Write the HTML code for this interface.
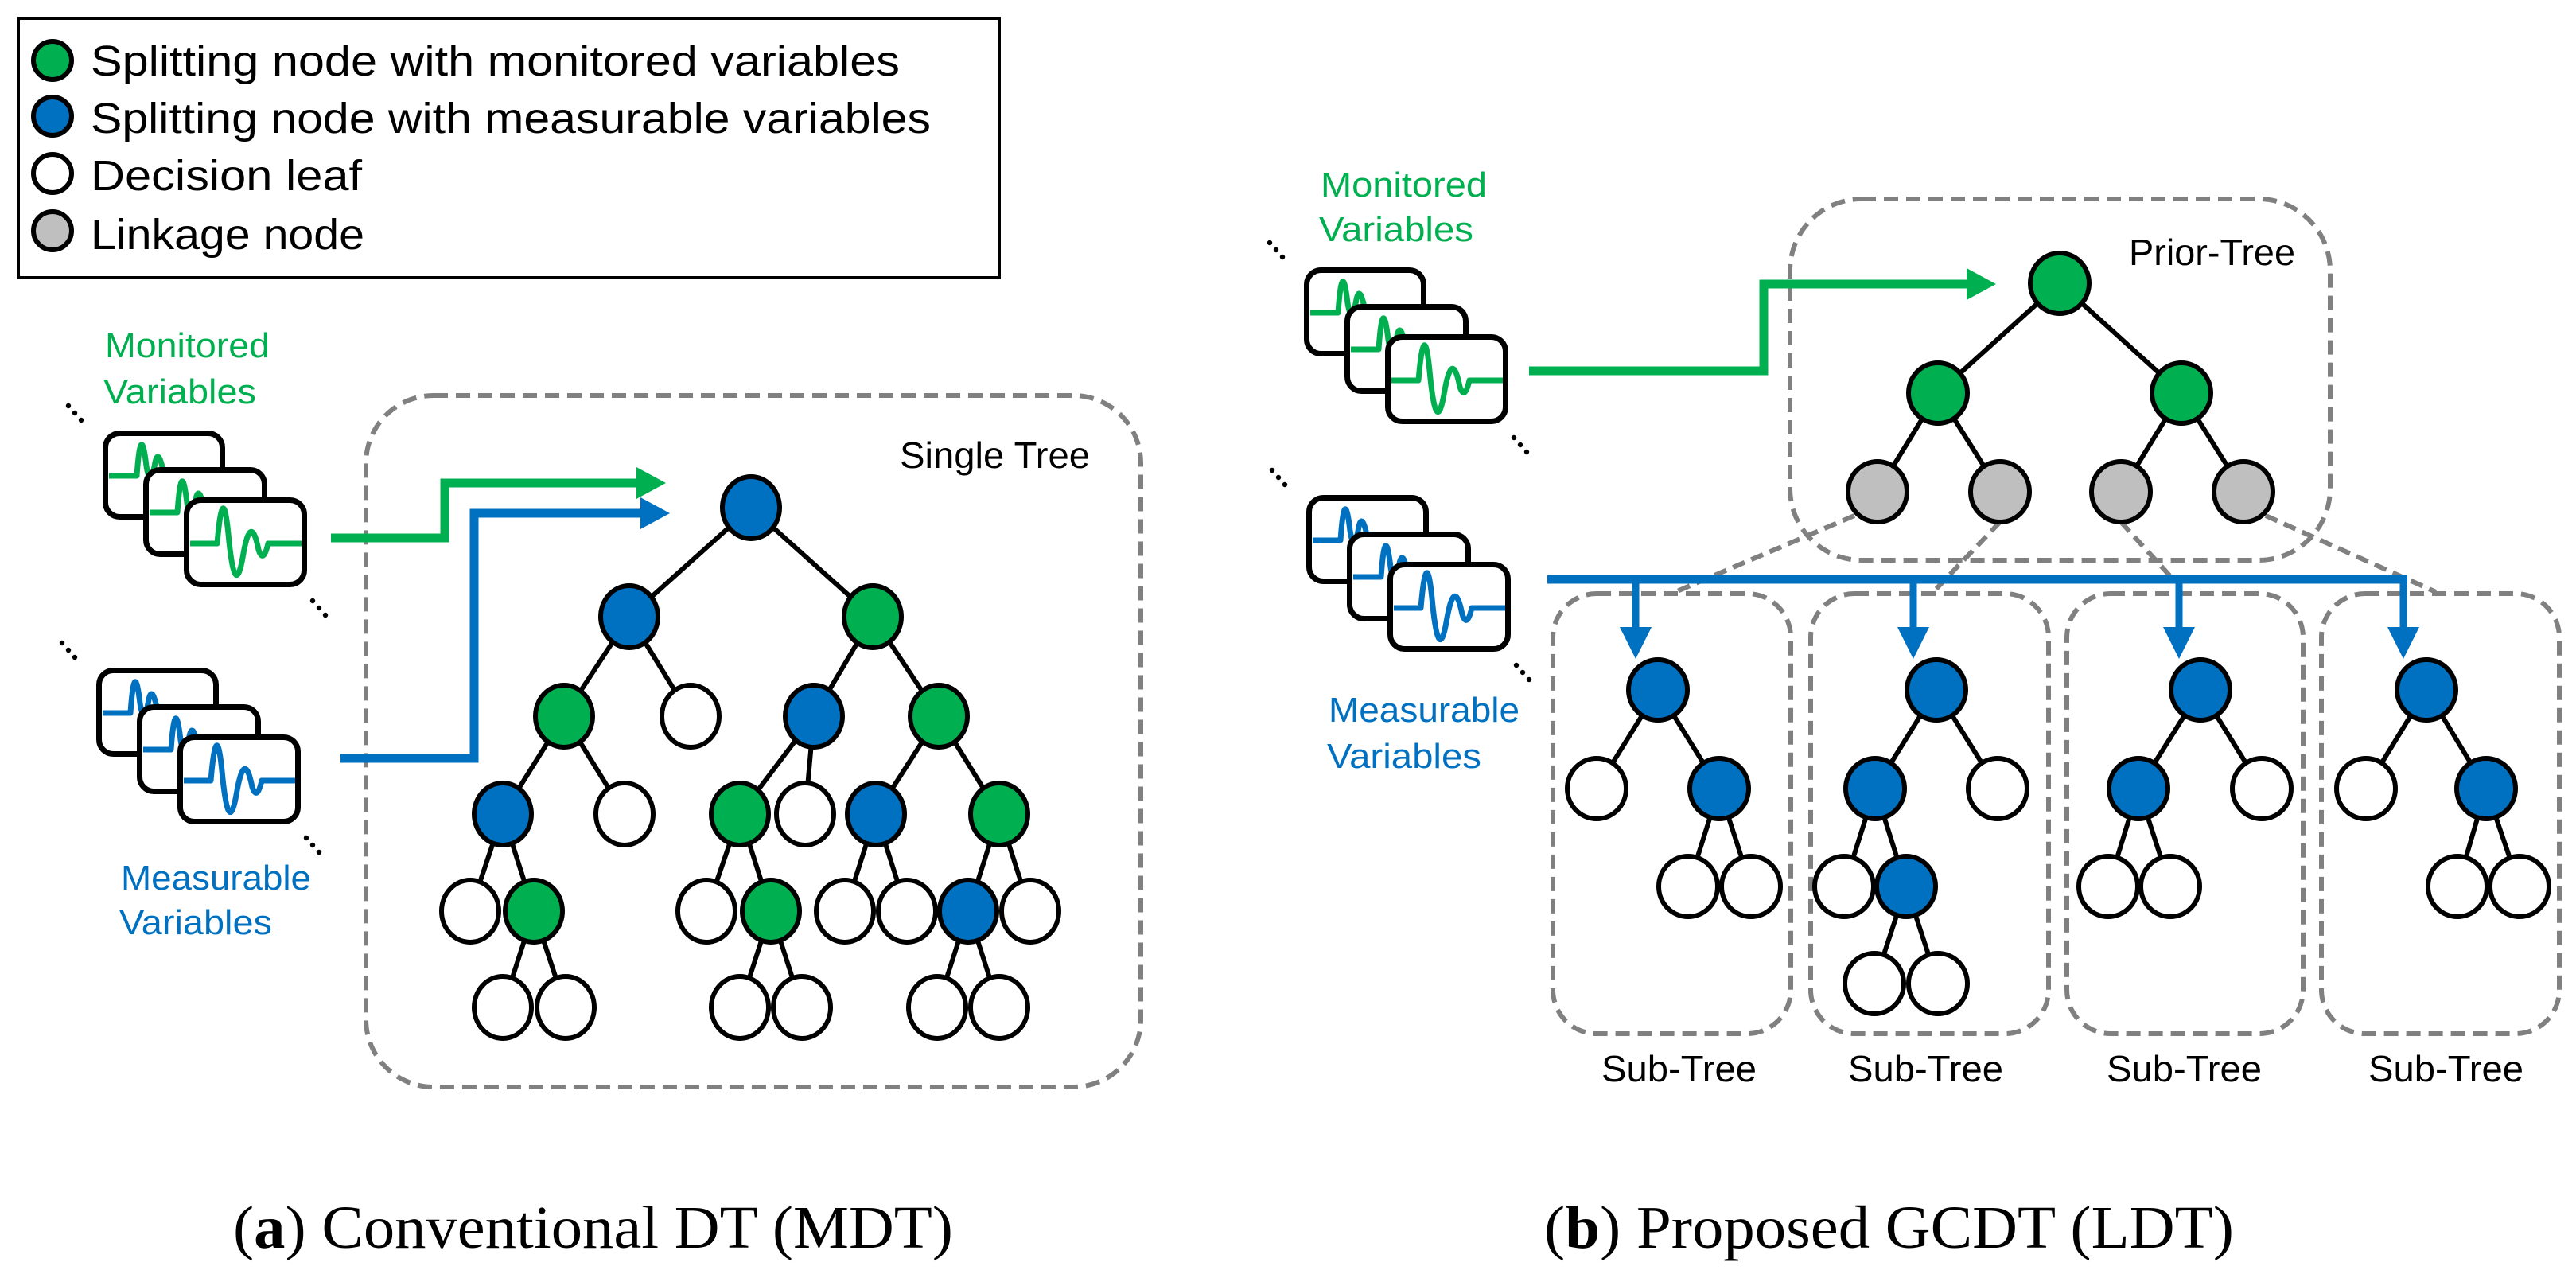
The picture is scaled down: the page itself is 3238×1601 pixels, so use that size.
<!DOCTYPE html>
<html><head><meta charset="utf-8"><style>
html,body{margin:0;padding:0;background:#fff}
svg{display:block}
text{font-family:"Liberation Sans",sans-serif}
</style></head><body>
<svg width="3238" height="1601" viewBox="0 0 3238 1601" xmlns="http://www.w3.org/2000/svg">
<defs>
<g id="dots"><circle cx="0" cy="0" r="3.2" fill="#000"/><circle cx="8" cy="9" r="3.2" fill="#000"/><circle cx="16" cy="18" r="3.2" fill="#000"/></g>
<g id="cardsG">
 <rect x="3.5" y="3.5" width="147" height="105" rx="18" fill="#fff" stroke="#000" stroke-width="7"/>
 <path d="M8,57 H43 Q48,-15 55,45 Q60,75 66,40 Q70,22 76,50" fill="none" stroke="#00B050" stroke-width="7" stroke-linejoin="round"/>
 <rect x="54.5" y="49.5" width="149" height="106" rx="18" fill="#fff" stroke="#000" stroke-width="7"/>
 <path d="M59,103 H94 Q99,31 106,91 Q111,121 117,86 Q121,68 127,96" fill="none" stroke="#00B050" stroke-width="7" stroke-linejoin="round"/>
 <rect x="105.5" y="87.5" width="148" height="106" rx="18" fill="#fff" stroke="#000" stroke-width="7"/>
 <path d="M110,142 H144 Q151,60 158,130 Q166,215 176,160 Q186,100 196,150 Q202,168 208,142 H250" fill="none" stroke="#00B050" stroke-width="7" stroke-linejoin="round"/>
</g>
<g id="cardsB">
 <rect x="3.5" y="3.5" width="147" height="105" rx="18" fill="#fff" stroke="#000" stroke-width="7"/>
 <path d="M8,57 H43 Q48,-15 55,45 Q60,75 66,40 Q70,22 76,50" fill="none" stroke="#0070C0" stroke-width="7" stroke-linejoin="round"/>
 <rect x="54.5" y="49.5" width="149" height="106" rx="18" fill="#fff" stroke="#000" stroke-width="7"/>
 <path d="M59,103 H94 Q99,31 106,91 Q111,121 117,86 Q121,68 127,96" fill="none" stroke="#0070C0" stroke-width="7" stroke-linejoin="round"/>
 <rect x="105.5" y="87.5" width="148" height="106" rx="18" fill="#fff" stroke="#000" stroke-width="7"/>
 <path d="M110,142 H144 Q151,60 158,130 Q166,215 176,160 Q186,100 196,150 Q202,168 208,142 H250" fill="none" stroke="#0070C0" stroke-width="7" stroke-linejoin="round"/>
</g>
</defs>

<rect x="23" y="23" width="1233" height="326" fill="#fff" stroke="#000" stroke-width="4"/>
<g stroke="#000" stroke-width="6">
<circle cx="66" cy="76" r="24" fill="#00B050"/>
<circle cx="66" cy="146" r="24" fill="#0070C0"/>
<circle cx="66" cy="218" r="24" fill="#fff"/>
<circle cx="66" cy="290" r="24" fill="#BFBFBF"/>
</g>
<g font-size="54" fill="#000">
<text x="114" y="95" textLength="1017" lengthAdjust="spacingAndGlyphs">Splitting node with monitored variables</text>
<text x="114" y="167" textLength="1056" lengthAdjust="spacingAndGlyphs">Splitting node with measurable variables</text>
<text x="114" y="239" textLength="341" lengthAdjust="spacingAndGlyphs">Decision leaf</text>
<text x="114" y="313" textLength="344" lengthAdjust="spacingAndGlyphs">Linkage node</text>
</g>

<g font-size="44">
<text x="132" y="449" fill="#00B050" textLength="207" lengthAdjust="spacingAndGlyphs">Monitored</text>
<text x="130" y="507" fill="#00B050" textLength="192" lengthAdjust="spacingAndGlyphs">Variables</text>
<text x="152" y="1118" fill="#0070C0" textLength="239" lengthAdjust="spacingAndGlyphs">Measurable</text>
<text x="150" y="1174" fill="#0070C0" textLength="192" lengthAdjust="spacingAndGlyphs">Variables</text>
</g>
<use href="#cardsG" transform="translate(129,541)"/>
<use href="#dots" transform="translate(86,510)"/>
<use href="#dots" transform="translate(393,755)"/>
<use href="#cardsB" transform="translate(121,839)"/>
<use href="#dots" transform="translate(78,808)"/>
<use href="#dots" transform="translate(385,1053)"/>

<rect x="460" y="497" width="974" height="869" rx="85" fill="none" stroke="#808080" stroke-width="6" stroke-dasharray="18 10"/>
<text x="1131" y="588" font-size="46" textLength="239" lengthAdjust="spacingAndGlyphs">Single Tree</text>

<polyline points="416,676 559,676 559,607 805,607" fill="none" stroke="#00B050" stroke-width="11"/>
<polygon points="837,607 800,587 800,627" fill="#00B050"/>
<polyline points="428,953 596,953 596,645 810,645" fill="none" stroke="#0070C0" stroke-width="11"/>
<polygon points="842,645 805,625 805,665" fill="#0070C0"/>

<g stroke="#000" stroke-width="6">
<line x1="944" y1="638" x2="791" y2="775"/><line x1="944" y1="638" x2="1097" y2="775"/>
<line x1="791" y1="775" x2="709" y2="900"/><line x1="791" y1="775" x2="868" y2="900"/>
<line x1="1097" y1="775" x2="1023" y2="900"/><line x1="1097" y1="775" x2="1180" y2="900"/>
<line x1="709" y1="900" x2="632" y2="1023"/><line x1="709" y1="900" x2="785" y2="1023"/>
<line x1="1023" y1="900" x2="930" y2="1023"/><line x1="1023" y1="900" x2="1012" y2="1023"/>
<line x1="1180" y1="900" x2="1101" y2="1023"/><line x1="1180" y1="900" x2="1256" y2="1023"/>
<line x1="632" y1="1023" x2="591" y2="1145"/><line x1="632" y1="1023" x2="671" y2="1145"/>
<line x1="930" y1="1023" x2="888" y2="1145"/><line x1="930" y1="1023" x2="969" y2="1145"/>
<line x1="1101" y1="1023" x2="1062" y2="1145"/><line x1="1101" y1="1023" x2="1140" y2="1145"/>
<line x1="1256" y1="1023" x2="1217" y2="1145"/><line x1="1256" y1="1023" x2="1295" y2="1145"/>
<line x1="671" y1="1145" x2="632" y2="1266"/><line x1="671" y1="1145" x2="711" y2="1266"/>
<line x1="969" y1="1145" x2="930" y2="1266"/><line x1="969" y1="1145" x2="1008" y2="1266"/>
<line x1="1217" y1="1145" x2="1178" y2="1266"/><line x1="1217" y1="1145" x2="1256" y2="1266"/>
</g>
<g stroke="#000" stroke-width="6">
<ellipse cx="944" cy="638" rx="36" ry="39" fill="#0070C0"/>
<ellipse cx="791" cy="775" rx="36" ry="39" fill="#0070C0"/>
<ellipse cx="1097" cy="775" rx="36" ry="39" fill="#00B050"/>
<ellipse cx="709" cy="900" rx="36" ry="39" fill="#00B050"/>
<ellipse cx="868" cy="900" rx="36" ry="39" fill="#fff"/>
<ellipse cx="1023" cy="900" rx="36" ry="39" fill="#0070C0"/>
<ellipse cx="1180" cy="900" rx="36" ry="39" fill="#00B050"/>
<ellipse cx="632" cy="1023" rx="36" ry="39" fill="#0070C0"/>
<ellipse cx="785" cy="1023" rx="36" ry="39" fill="#fff"/>
<ellipse cx="930" cy="1023" rx="36" ry="39" fill="#00B050"/>
<ellipse cx="1012" cy="1023" rx="36" ry="39" fill="#fff"/>
<ellipse cx="1101" cy="1023" rx="36" ry="39" fill="#0070C0"/>
<ellipse cx="1256" cy="1023" rx="36" ry="39" fill="#00B050"/>
<ellipse cx="591" cy="1145" rx="36" ry="39" fill="#fff"/>
<ellipse cx="671" cy="1145" rx="36" ry="39" fill="#00B050"/>
<ellipse cx="888" cy="1145" rx="36" ry="39" fill="#fff"/>
<ellipse cx="969" cy="1145" rx="36" ry="39" fill="#00B050"/>
<ellipse cx="1062" cy="1145" rx="36" ry="39" fill="#fff"/>
<ellipse cx="1140" cy="1145" rx="36" ry="39" fill="#fff"/>
<ellipse cx="1295" cy="1145" rx="36" ry="39" fill="#fff"/>
<ellipse cx="1217" cy="1145" rx="36" ry="39" fill="#0070C0"/>
<ellipse cx="632" cy="1266" rx="36" ry="39" fill="#fff"/>
<ellipse cx="711" cy="1266" rx="36" ry="39" fill="#fff"/>
<ellipse cx="930" cy="1266" rx="36" ry="39" fill="#fff"/>
<ellipse cx="1008" cy="1266" rx="36" ry="39" fill="#fff"/>
<ellipse cx="1178" cy="1266" rx="36" ry="39" fill="#fff"/>
<ellipse cx="1256" cy="1266" rx="36" ry="39" fill="#fff"/>
</g>

<g font-size="44">
<text x="1660" y="247" fill="#00B050" textLength="209" lengthAdjust="spacingAndGlyphs">Monitored</text>
<text x="1658" y="303" fill="#00B050" textLength="194" lengthAdjust="spacingAndGlyphs">Variables</text>
<text x="1670" y="907" fill="#0070C0" textLength="240" lengthAdjust="spacingAndGlyphs">Measurable</text>
<text x="1668" y="965" fill="#0070C0" textLength="194" lengthAdjust="spacingAndGlyphs">Variables</text>
</g>
<use href="#cardsG" transform="translate(1639,336)"/>
<use href="#dots" transform="translate(1596,305)"/>
<use href="#dots" transform="translate(1903,550)"/>
<use href="#cardsB" transform="translate(1642,622)"/>
<use href="#dots" transform="translate(1599,591)"/>
<use href="#dots" transform="translate(1906,836)"/>

<rect x="2250" y="250" width="679" height="454" rx="90" fill="none" stroke="#808080" stroke-width="6" stroke-dasharray="18 10"/>
<text x="2676" y="333" font-size="46" textLength="209" lengthAdjust="spacingAndGlyphs">Prior-Tree</text>

<g fill="none" stroke="#808080" stroke-width="6" stroke-dasharray="18 10">
<rect x="1952" y="746" width="299" height="553" rx="55"/>
<rect x="2276" y="746" width="299" height="553" rx="55"/>
<rect x="2598" y="746" width="297" height="553" rx="55"/>
<rect x="2918" y="746" width="299" height="553" rx="55"/>
</g>
<g stroke="#808080" stroke-width="6" stroke-dasharray="16 9">
<line x1="2331" y1="648" x2="2101" y2="746"/>
<line x1="2514" y1="656" x2="2430" y2="744"/>
<line x1="2666" y1="656" x2="2728" y2="724"/>
<line x1="2848" y1="648" x2="3062" y2="744"/>
</g>

<polyline points="1922,466 2217,466 2217,357 2478,357" fill="none" stroke="#00B050" stroke-width="11"/>
<polygon points="2509,357 2472,337 2472,377" fill="#00B050"/>

<line x1="1945" y1="728" x2="3026" y2="728" stroke="#0070C0" stroke-width="11"/>
<g stroke="#0070C0" stroke-width="9">
<line x1="2056" y1="728" x2="2056" y2="795"/>
<line x1="2405" y1="728" x2="2405" y2="795"/>
<line x1="2739" y1="728" x2="2739" y2="795"/>
<line x1="3021" y1="728" x2="3021" y2="795"/>
</g>
<g fill="#0070C0">
<polygon points="2036,788 2076,788 2056,828"/>
<polygon points="2385,788 2425,788 2405,828"/>
<polygon points="2719,788 2759,788 2739,828"/>
<polygon points="3001,788 3041,788 3021,828"/>
</g>

<g stroke="#000" stroke-width="6">
<line x1="2589" y1="356" x2="2436" y2="494"/><line x1="2589" y1="356" x2="2742" y2="494"/>
<line x1="2436" y1="494" x2="2360" y2="618"/><line x1="2436" y1="494" x2="2514" y2="618"/>
<line x1="2742" y1="494" x2="2666" y2="618"/><line x1="2742" y1="494" x2="2820" y2="618"/>
<line x1="2084" y1="867" x2="2007" y2="991"/><line x1="2084" y1="867" x2="2161" y2="991"/>
<line x1="2161" y1="991" x2="2122" y2="1114"/><line x1="2161" y1="991" x2="2201" y2="1114"/>
<line x1="2434" y1="867" x2="2357" y2="991"/><line x1="2434" y1="867" x2="2511" y2="991"/>
<line x1="2357" y1="991" x2="2318" y2="1114"/><line x1="2357" y1="991" x2="2396" y2="1114"/>
<line x1="2396" y1="1114" x2="2356" y2="1236"/><line x1="2396" y1="1114" x2="2436" y2="1236"/>
<line x1="2766" y1="867" x2="2688" y2="991"/><line x1="2766" y1="867" x2="2843" y2="991"/>
<line x1="2688" y1="991" x2="2650" y2="1114"/><line x1="2688" y1="991" x2="2728" y2="1114"/>
<line x1="3050" y1="867" x2="2974" y2="991"/><line x1="3050" y1="867" x2="3125" y2="991"/>
<line x1="3125" y1="991" x2="3089" y2="1114"/><line x1="3125" y1="991" x2="3167" y2="1114"/>
</g>
<g stroke="#000" stroke-width="6">
<ellipse cx="2589" cy="356" rx="37" ry="38" fill="#00B050"/>
<ellipse cx="2436" cy="494" rx="37" ry="38" fill="#00B050"/>
<ellipse cx="2742" cy="494" rx="37" ry="38" fill="#00B050"/>
<ellipse cx="2360" cy="618" rx="37" ry="38" fill="#BFBFBF"/>
<ellipse cx="2514" cy="618" rx="37" ry="38" fill="#BFBFBF"/>
<ellipse cx="2666" cy="618" rx="37" ry="38" fill="#BFBFBF"/>
<ellipse cx="2820" cy="618" rx="37" ry="38" fill="#BFBFBF"/>
<ellipse cx="2084" cy="867" rx="37" ry="38" fill="#0070C0"/>
<ellipse cx="2007" cy="991" rx="37" ry="38" fill="#fff"/>
<ellipse cx="2161" cy="991" rx="37" ry="38" fill="#0070C0"/>
<ellipse cx="2122" cy="1114" rx="37" ry="38" fill="#fff"/>
<ellipse cx="2201" cy="1114" rx="37" ry="38" fill="#fff"/>
<ellipse cx="2434" cy="867" rx="37" ry="38" fill="#0070C0"/>
<ellipse cx="2357" cy="991" rx="37" ry="38" fill="#0070C0"/>
<ellipse cx="2511" cy="991" rx="37" ry="38" fill="#fff"/>
<ellipse cx="2318" cy="1114" rx="37" ry="38" fill="#fff"/>
<ellipse cx="2396" cy="1114" rx="37" ry="38" fill="#0070C0"/>
<ellipse cx="2356" cy="1236" rx="37" ry="38" fill="#fff"/>
<ellipse cx="2436" cy="1236" rx="37" ry="38" fill="#fff"/>
<ellipse cx="2766" cy="867" rx="37" ry="38" fill="#0070C0"/>
<ellipse cx="2688" cy="991" rx="37" ry="38" fill="#0070C0"/>
<ellipse cx="2843" cy="991" rx="37" ry="38" fill="#fff"/>
<ellipse cx="2650" cy="1114" rx="37" ry="38" fill="#fff"/>
<ellipse cx="2728" cy="1114" rx="37" ry="38" fill="#fff"/>
<ellipse cx="3050" cy="867" rx="37" ry="38" fill="#0070C0"/>
<ellipse cx="2974" cy="991" rx="37" ry="38" fill="#fff"/>
<ellipse cx="3125" cy="991" rx="37" ry="38" fill="#0070C0"/>
<ellipse cx="3089" cy="1114" rx="37" ry="38" fill="#fff"/>
<ellipse cx="3167" cy="1114" rx="37" ry="38" fill="#fff"/>
</g>

<g font-size="46">
<text x="2013" y="1359" textLength="195" lengthAdjust="spacingAndGlyphs">Sub-Tree</text>
<text x="2323" y="1359" textLength="195" lengthAdjust="spacingAndGlyphs">Sub-Tree</text>
<text x="2648" y="1359" textLength="195" lengthAdjust="spacingAndGlyphs">Sub-Tree</text>
<text x="2977" y="1359" textLength="195" lengthAdjust="spacingAndGlyphs">Sub-Tree</text>
</g>

<g font-size="76">
<text x="293" y="1568" textLength="905" lengthAdjust="spacingAndGlyphs" style="font-family:'Liberation Serif',serif">(<tspan font-weight="bold">a</tspan>) Conventional DT (MDT)</text>
<text x="1941" y="1568" textLength="867" lengthAdjust="spacingAndGlyphs" style="font-family:'Liberation Serif',serif">(<tspan font-weight="bold">b</tspan>) Proposed GCDT (LDT)</text>
</g>
</svg>
</body></html>
